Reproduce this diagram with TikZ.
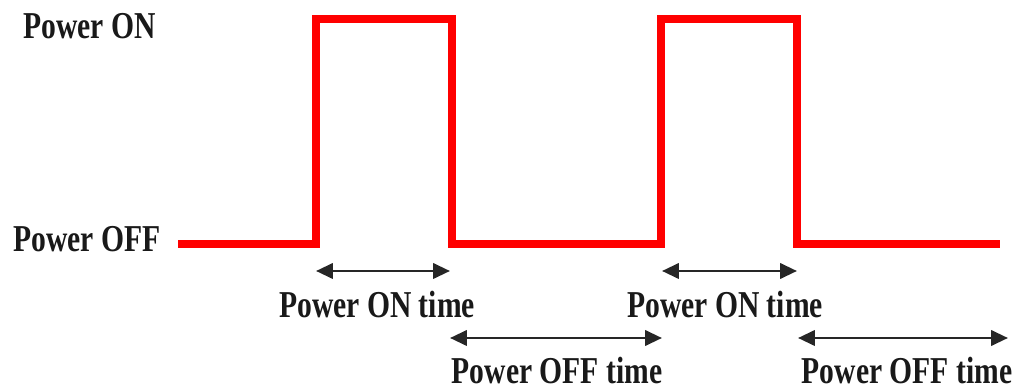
\documentclass[tikz,border=0pt]{standalone}
\usepackage{fontspec}
\usepackage{tikz}
\usetikzlibrary{arrows.meta,positioning}
\newfontfamily\wavefont[FakeStretch=0.78]{Liberation Serif}

\begin{document}
\begin{tikzpicture}[
    x=0.025cm, y=-0.025cm,
    signal/.style={draw=red, line width=5pt, line join=miter},
    span/.style={{Triangle[length=4.2mm, width=3.8mm]}-{Triangle[length=4.2mm, width=3.8mm]}, line width=2pt, black!85},
    label/.style={font=\wavefont\bfseries\fontsize{27pt}{30pt}\selectfont, text=black!90, inner sep=0pt}
]
\useasboundingbox (0,0) rectangle (1014,392);

% Signal corners
\coordinate (s0) at (178,244);
\coordinate (r1) at (316,244);
\coordinate (r1t) at (316,19);
\coordinate (f1t) at (452,19);
\coordinate (f1) at (452,244);
\coordinate (r2) at (661,244);
\coordinate (r2t) at (661,19);
\coordinate (f2t) at (797,19);
\coordinate (f2) at (797,244);
\coordinate (s1) at (1000,244);

\draw[signal] (s0) -- (r1) -- (r1t) -- (f1t) -- (f1) -- (r2) -- (r2t) -- (f2t) -- (f2) -- (s1);

% Levels
\node[label, anchor=base west] (on) at (23,39) {Power ON};
\node[label, anchor=base west] (off) at (13,252) {Power OFF};

% Time spans
\coordinate (on1a) at (316,271);
\coordinate (on1b) at (450,271);
\coordinate (off1a) at (450,338);
\coordinate (off1b) at (662,338);
\coordinate (on2a) at (662,271);
\coordinate (on2b) at (797,271);
\coordinate (off2a) at (798,338);
\coordinate (off2b) at (1008,338);

\draw[span] (on1a) -- (on1b);
\draw[span] (off1a) -- (off1b);
\draw[span] (on2a) -- (on2b);
\draw[span] (off2a) -- (off2b);

\node[label, anchor=base] (ontime1) at (377,318) {Power ON time};
\node[label, anchor=base] (offtime1) at (557,384) {Power OFF time};
\node[label, anchor=base] (ontime2) at (725,318) {Power ON time};
\node[label, anchor=base] (offtime2) at (907,384) {Power OFF time};
\end{tikzpicture}
\end{document}
